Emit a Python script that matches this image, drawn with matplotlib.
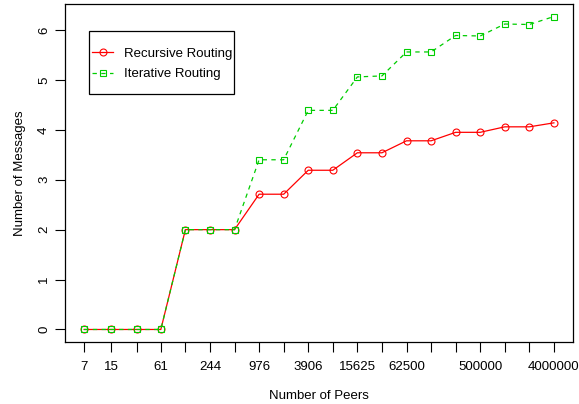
import matplotlib
matplotlib.use("Agg")
import matplotlib.pyplot as plt
from matplotlib.patches import Rectangle
import numpy as np

plt.rcParams['font.family'] = ['Liberation Sans', 'DejaVu Sans']

peers = [7, 15, 31, 61, 122, 244, 488, 976, 1953, 3906, 7812, 15625,
         31250, 62500, 125000, 250000, 500000, 1000000, 2000000, 4000000]
recursive = [0, 0, 0, 0, 2, 2, 2, 2.71, 2.71, 3.19, 3.19, 3.54, 3.54,
             3.78, 3.78, 3.95, 3.95, 4.06, 4.06, 4.14]
iterative = [0, 0, 0, 0, 2, 2, 2, 3.40, 3.40, 4.39, 4.39, 5.06, 5.08,
             5.56, 5.56, 5.89, 5.88, 6.12, 6.11, 6.27]
xlabels_shown = [7, 15, 61, 244, 976, 3906, 15625, 62500, 500000, 4000000]
yticks = [0, 1, 2, 3, 4, 5, 6]

FS = 9.5
fig = plt.figure(figsize=(5.79, 4.04), dpi=100)
ax = fig.add_axes([65.3/579, 1-342/404, (572.7-65.3)/579, (342-4)/404])

red = '#FF0000'
green = '#00CD00'
ax.plot(peers, recursive, color=red, lw=0.9, marker='o', ms=5.0,
        mfc='none', mec=red, mew=0.8, label='Recursive Routing')
ax.plot(peers, iterative, color=green, lw=0.9, ls=(0, (3.5, 3.5)), marker='s', ms=4.5,
        mfc='none', mec=green, mew=0.8, label='Iterative Routing')

ax.set_xscale('log', base=2)
lx = np.log2(peers)
rx = lx[-1] - lx[0]
ax.set_xlim(2 ** (lx[0] - 0.04*rx), 2 ** (lx[-1] + 0.04*rx))
ry = max(iterative) - 0
ax.set_ylim(-0.04*ry, max(iterative) + 0.04*ry)

ax.set_xticks(peers)
ax.set_xticklabels([str(p) if p in xlabels_shown else '' for p in peers])
ax.xaxis.set_minor_locator(matplotlib.ticker.NullLocator())
ax.set_yticks(yticks)
ax.set_yticklabels([str(v) for v in yticks], rotation=90, va='center')

for s in ax.spines.values():
    s.set_linewidth(0.9)
    s.set_color('black')
ax.tick_params(axis='both', length=7, width=0.8, labelsize=FS, color='black')
ax.tick_params(axis='x', pad=7)
ax.tick_params(axis='y', pad=4)

ax.set_xlabel('Number of Peers', fontsize=FS, labelpad=12)
ax.set_ylabel('Number of Messages', fontsize=FS, labelpad=9)

leg = ax.legend(loc='upper left', bbox_to_anchor=(0.0526, 0.8716), borderaxespad=0,
                fontsize=FS, frameon=False,
                handlelength=1.6, handletextpad=0.8, borderpad=0, labelspacing=0.64,
                numpoints=1)
ax.add_patch(Rectangle((0.0467, 0.7346), 0.3325-0.0467, 0.921-0.7346,
                       transform=ax.transAxes, fill=False, ec='black', lw=0.9,
                       zorder=5))

fig.savefig('out.png', dpi=100)
